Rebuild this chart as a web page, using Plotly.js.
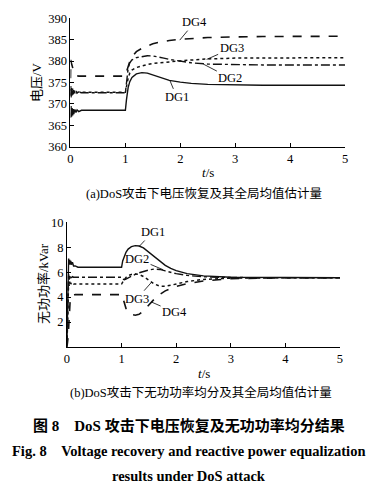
<!DOCTYPE html>
<html>
<head>
<meta charset="utf-8">
<script src="https://cdn.plot.ly/plotly-3.0.1.min.js"></script>
<style>
html,body{margin:0;padding:0;background:#fff;}
#chart{width:392px;height:487px;}
</style>
</head>
<body>
<div id="chart"></div>
<script>
// ---------- Panel (a): voltage ----------
const tV = [0,0.005,0.01,0.02,0.03,0.04,0.05,0.06,0.08,0.1,0.12,0.15,0.2,
            1.0,1.02,1.05,1.08,1.12,1.2,1.3,1.4,1.5,1.6,1.7,1.8,
            2.0,2.2,2.5,3.0,3.5,5.0];
const vDG1 = [368,366.8,369.5,367,369,367.3,368.8,367.6,368.7,368,368.6,368.2,368.5,
              368.5,371,373.8,375.2,376.2,377,377.3,377.2,376.8,376.3,375.9,375.5,
              375.1,374.8,374.55,374.4,374.35,374.35];
const vDG2 = [372,374.5,371.5,374,372,373.6,372.2,373.2,372.4,373,372.5,372.8,372.6,
              372.6,375.5,378.3,379.6,380.3,380.8,381.1,381.25,381.2,381,380.7,380.4,
              379.95,379.6,379.3,379.15,379.1,379.1];
const vDG3 = [372,373.5,371.8,373.8,372.2,373.4,372.3,373,372.5,372.9,372.6,372.8,372.7,
              372.7,374.2,376,377.2,377.9,378.5,378.9,379.2,379.45,379.6,379.75,379.85,
              380.05,380.25,380.5,380.7,380.75,380.8];
const vDG4 = [376,380.3,379.8,379.4,378.9,378.3,377.9,377.5,377.1,376.8,376.6,376.5,376.5,
              376.5,377.5,378.8,379.9,381,382.2,383,383.6,384.05,384.35,384.6,384.8,
              385.1,385.3,385.5,385.65,385.75,385.8];

// ---------- Panel (b): reactive power ----------
const tQ = [0,0.01,0.02,0.03,0.04,0.05,0.06,0.07,0.08,0.1,0.12,0.15,0.2,
            1.0,1.02,1.05,1.08,1.12,1.18,1.25,1.32,1.4,1.5,1.6,1.7,1.8,1.9,
            2.0,2.2,2.5,3.0,4.0,5.0];
const qDG1 = [0.5,3,6.5,7.1,6.6,7.0,6.6,6.9,6.6,6.8,6.5,6.5,6.4,
              6.4,6.9,7.3,7.6,7.85,8.05,8.13,8.1,7.95,7.6,7.2,6.85,6.55,6.3,
              6.12,5.88,5.7,5.6,5.56,5.55];
const qDG2 = [0.2,1.5,4.5,5.9,5.4,5.8,5.5,5.7,5.55,5.65,5.6,5.6,5.6,
              5.6,5.45,5.4,5.45,5.55,5.68,5.82,5.95,6.07,6.18,6.25,6.22,6.1,5.98,
              5.88,5.74,5.63,5.57,5.55,5.55];
const qDG3 = [0.2,1.2,3.5,5.3,4.9,5.25,4.95,5.15,5.0,5.1,5.05,5.05,5.05,
              5.05,5.2,5.4,5.58,5.72,5.82,5.86,5.82,5.65,5.35,5.05,4.88,4.87,4.95,
              5.07,5.25,5.42,5.52,5.55,5.55];
const qDG4 = [0,0.3,0.8,1.5,2.5,3.4,3.9,4.0,4.05,4.1,4.15,4.2,4.2,
              4.2,4.0,3.5,3.1,2.8,2.62,2.55,2.62,2.9,3.4,3.85,4.22,4.5,4.7,
              4.86,5.08,5.3,5.48,5.55,5.55];

const seriesNames = ['DG1','DG2','DG3','DG4'];
const xTicks = [0,1,2,3,4,5];
const vTicks = [360,365,370,375,380,385,390];
const qTicks = [2,4,6,8,10];

const xTitle = '<i>t</i>/s';
const vTitle = '电压/V';
const qTitle = '无功功率/kVar';
const captionA = '(a)DoS攻击下电压恢复及其全局均值估计量';
const captionB = '(b)DoS攻击下无功功率均分及其全局均值估计量';
const figTitleCN = '图 8\u2003DoS 攻击下电压恢复及无功功率均分结果';
const figTitleEN1 = 'Fig. 8\u2003Voltage recovery and reactive power equalization';
const figTitleEN2 = 'results under DoS attack';

const serif = '"Liberation Serif", "Times New Roman", "Noto Sans CJK SC", serif';
const dashes = ['solid','dashdot','dot','dash'];
const widths = [1.4,1.4,1.5,1.6];

const vData = [vDG1,vDG2,vDG3,vDG4];
const qData = [qDG1,qDG2,qDG3,qDG4];
const traces = [];
vData.forEach((v,i)=>traces.push({x:tV,y:v,type:'scatter',mode:'lines',name:seriesNames[i],
  line:{color:'#111',width:widths[i],dash:dashes[i]},xaxis:'x',yaxis:'y',showlegend:false}));
qData.forEach((q,i)=>traces.push({x:tQ,y:q,type:'scatter',mode:'lines',name:seriesNames[i],
  line:{color:'#111',width:widths[i],dash:dashes[i]},xaxis:'x2',yaxis:'y2',showlegend:false}));

const axBase = {showline:true,linecolor:'#000',linewidth:1,ticks:'inside',ticklen:4,tickwidth:1,
  tickcolor:'#000',showgrid:false,zeroline:false,automargin:false,
  tickfont:{family:serif,size:12.5,color:'#000'}};

function lab(text,x,y,xr,yr,ax,ay){
  return {text:text,x:x,y:y,xref:xr,yref:yr,showarrow:true,arrowhead:0,arrowwidth:0.8,
    arrowcolor:'#000',ax:ax,ay:ay,standoff:0,font:{family:serif,size:12.5,color:'#000'}};
}
// place text by page pixel position
function cap(text,px,py,size,bold,angle){
  return {text:bold?'<b>'+text+'</b>':text,x:px/392,y:1-py/487,xref:'paper',yref:'paper',showarrow:false,
    xanchor:'center',yanchor:'middle',textangle:angle||0,font:{family:serif,size:size,color:'#000'}};
}

const layout = {
  width:392,height:487,margin:{l:0,r:0,t:0,b:0},
  paper_bgcolor:'#fff',plot_bgcolor:'#fff',showlegend:false,
  xaxis:Object.assign({},axBase,{domain:[0.1798,0.8801],range:[0,5],tickvals:xTicks,anchor:'y'}),
  yaxis:Object.assign({},axBase,{domain:[0.6988,0.9624],range:[360,390],tickvals:vTicks,anchor:'x'}),
  xaxis2:Object.assign({},axBase,{domain:[0.1709,0.8673],range:[0,5],tickvals:xTicks,anchor:'y2'}),
  yaxis2:Object.assign({},axBase,{domain:[0.2875,0.5435],range:[0,10],tickvals:qTicks,anchor:'x2'}),
  annotations:[
    lab('DG4',1.99,384.9,'x','y',15,-18),
    lab('DG3',2.48,380.4,'x','y',25,-11),
    lab('DG2',2.42,379.3,'x','y',27,14),
    lab('DG1',1.81,375.5,'x','y',7,17),
    lab('DG1',1.33,8.1,'x2','y2',13,-14),
    lab('DG2',1.76,6.2,'x2','y2',-26,-11),
    lab('DG3',1.55,5.2,'x2','y2',-15,17),
    lab('DG4',1.55,3.6,'x2','y2',23,10),
    cap(xTitle,208,172,13,false),
    cap(xTitle,204,373,13,false),
    cap(vTitle,37,82,13,false,-90),
    cap(qTitle,43,284,13,false,-90),
    cap(captionA,204,193,12.5,false),
    cap(captionB,201,392.5,12.5,false),
    cap(figTitleCN,188.5,425,15,true),
    cap(figTitleEN1,188.5,451,14.5,true),
    cap(figTitleEN2,188.5,476,14.5,true)
  ]
};

Plotly.newPlot('chart',traces,layout,{staticPlot:true,displayModeBar:false});
</script>
</body>
</html>
